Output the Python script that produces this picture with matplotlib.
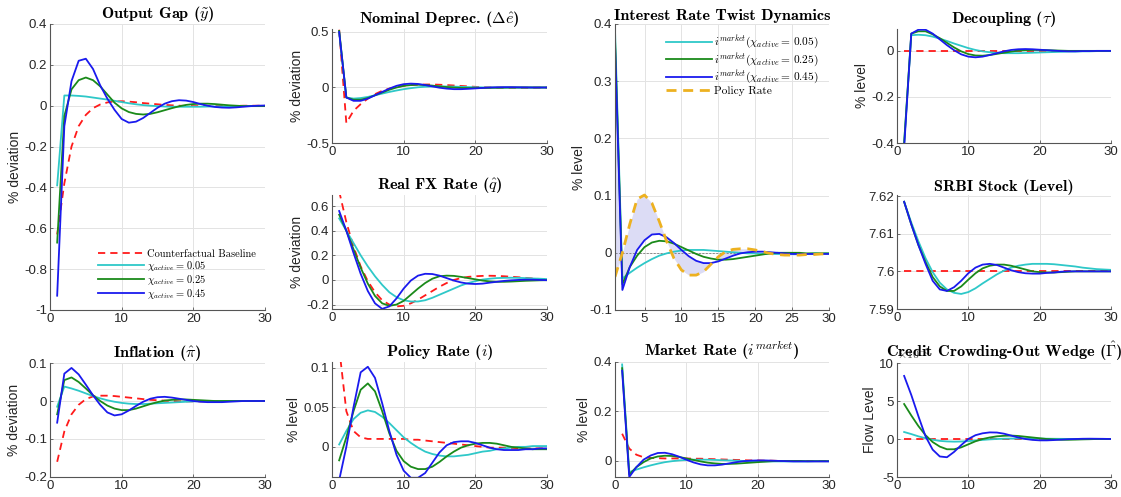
import matplotlib
matplotlib.use('Agg')
import matplotlib.pyplot as plt
import matplotlib.ticker as ticker

# horizon
t = list(range(1, 31))

# ---- output gap ----
og_base = [-0.63, -0.38, -0.20, -0.10, -0.045, -0.012, 0.006, 0.016, 0.021, 0.022, 0.020, 0.017, 0.013, 0.010, 0.007,
           0.004, 0.002, 0.000, -0.001, -0.002, -0.002, -0.002, -0.002, -0.001, -0.001, -0.001, 0.0, 0.0, 0.0, 0.0]
og_c05 = [-0.39, 0.050, 0.050, 0.048, 0.045, 0.040, 0.035, 0.030, 0.024, 0.018, 0.012, 0.007, 0.003, 0.000, -0.002,
          -0.004, -0.005, -0.005, -0.005, -0.005, -0.005, -0.004, -0.004, -0.003, -0.003, -0.002, -0.002, -0.001, -0.001, -0.001]
og_c25 = [-0.67, -0.05, 0.08, 0.125, 0.138, 0.125, 0.095, 0.055, 0.015, -0.013, -0.031, -0.040, -0.043, -0.040, -0.032,
          -0.022, -0.012, -0.003, 0.004, 0.008, 0.010, 0.010, 0.008, 0.005, 0.002, 0.000, -0.002, -0.002, -0.002, -0.002]
og_c45 = [-0.93, -0.10, 0.12, 0.22, 0.23, 0.18, 0.10, 0.035, -0.02, -0.065, -0.083, -0.078, -0.06, -0.035, -0.01,
          0.01, 0.022, 0.027, 0.025, 0.018, 0.008, 0.0, -0.006, -0.009, -0.01, -0.008, -0.005, -0.002, 0.0, 0.001]

# ---- nominal depreciation ----
nd_base = [0.52, -0.32, -0.21, -0.15, -0.10, -0.06, -0.03, -0.01, 0.005, 0.015, 0.022, 0.025, 0.027, 0.027, 0.025,
           0.022, 0.018, 0.014, 0.010, 0.006, 0.003, 0.0, -0.002, -0.003, -0.003, -0.003, -0.002, -0.002, -0.001, -0.001]
nd_c05 = [0.50, -0.09, -0.10, -0.095, -0.085, -0.07, -0.055, -0.04, -0.027, -0.015, -0.006, 0.002, 0.007, 0.009, 0.010,
          0.009, 0.008, 0.006, 0.004, 0.002, 0.001, 0.0, -0.001, -0.001, -0.001, -0.001, 0.0, 0.0, 0.0, 0.0]
nd_c25 = [0.51, -0.09, -0.11, -0.11, -0.095, -0.07, -0.045, -0.02, 0.0, 0.015, 0.022, 0.025, 0.022, 0.017, 0.010,
          0.004, -0.001, -0.004, -0.005, -0.005, -0.004, -0.003, -0.002, -0.001, 0.0, 0.0, 0.0, 0.0, 0.0, 0.0]
nd_c45 = [0.50, -0.09, -0.12, -0.12, -0.10, -0.07, -0.04, -0.01, 0.015, 0.030, 0.035, 0.032, 0.022, 0.010, -0.002,
          -0.010, -0.015, -0.015, -0.012, -0.008, -0.004, 0.0, 0.002, 0.003, 0.003, 0.002, 0.001, 0.0, 0.0, 0.0]

# ---- real FX rate ----
fx_base = [0.72, 0.47, 0.27, 0.11, -0.01, -0.10, -0.165, -0.20, -0.215, -0.21, -0.19, -0.16, -0.125, -0.09, -0.055,
           -0.025, 0.0, 0.015, 0.025, 0.030, 0.033, 0.034, 0.033, 0.030, 0.026, 0.022, 0.017, 0.012, 0.008, 0.005]
fx_c05 = [0.50, 0.40, 0.30, 0.20, 0.11, 0.03, -0.04, -0.10, -0.14, -0.165, -0.175, -0.175, -0.165, -0.145, -0.12,
          -0.095, -0.07, -0.045, -0.025, -0.01, 0.003, 0.010, 0.015, 0.017, 0.018, 0.017, 0.015, 0.012, 0.010, 0.007]
fx_c25 = [0.53, 0.40, 0.25, 0.10, -0.03, -0.13, -0.19, -0.21, -0.20, -0.17, -0.12, -0.07, -0.025, 0.01, 0.03,
          0.035, 0.033, 0.025, 0.015, 0.005, -0.005, -0.012, -0.015, -0.015, -0.013, -0.010, -0.007, -0.005, -0.003, -0.002]
fx_c45 = [0.56, 0.40, 0.22, 0.05, -0.09, -0.19, -0.235, -0.215, -0.15, -0.07, -0.005, 0.035, 0.050, 0.048, 0.035,
          0.015, -0.005, -0.020, -0.030, -0.033, -0.030, -0.022, -0.015, -0.008, -0.003, 0.0, 0.002, 0.002, 0.0, -0.002]

# ---- market rate ----
mr_base = [0.11, 0.05, 0.025, 0.015, 0.012, 0.011, 0.010, 0.010, 0.010, 0.010, 0.009, 0.009, 0.008, 0.007, 0.006,
           0.005, 0.004, 0.003, 0.002, 0.002, 0.001, 0.001, 0.0, 0.0, 0.0, 0.0, 0.0, 0.0, 0.0, 0.0]
mr_c05 = [0.39, -0.045, -0.035, -0.026, -0.018, -0.011, -0.005, -0.001, 0.002, 0.004, 0.005, 0.005, 0.005, 0.004, 0.003,
          0.002, 0.001, 0.0, -0.001, -0.001, -0.002, -0.002, -0.002, -0.002, -0.002, -0.002, -0.002, -0.001, -0.001, -0.001]
mr_c25 = [0.375, -0.055, -0.025, -0.005, 0.010, 0.018, 0.021, 0.020, 0.016, 0.010, 0.004, -0.002, -0.007, -0.010, -0.012,
          -0.012, -0.011, -0.009, -0.007, -0.005, -0.003, -0.001, 0.0, 0.0, 0.0, 0.0, -0.001, -0.001, -0.001, -0.001]
mr_c45 = [0.365, -0.065, -0.025, 0.005, 0.022, 0.032, 0.033, 0.027, 0.017, 0.005, -0.006, -0.014, -0.018, -0.018, -0.015,
          -0.010, -0.005, -0.001, 0.001, 0.002, 0.002, 0.001, 0.0, -0.001, -0.002, -0.002, -0.002, -0.002, -0.002, -0.002]

# ---- policy rate ----
pr_base = [0.125, 0.045, 0.02, 0.012, 0.010, 0.010, 0.010, 0.010, 0.010, 0.010, 0.009, 0.009, 0.008, 0.007, 0.006,
           0.005, 0.004, 0.003, 0.002, 0.001, 0.0, -0.001, -0.001, -0.001, -0.002, -0.002, -0.002, -0.002, -0.002, -0.002]
pr_c05 = [0.003, 0.020, 0.035, 0.043, 0.046, 0.044, 0.038, 0.030, 0.021, 0.012, 0.005, -0.001, -0.006, -0.009, -0.011,
          -0.012, -0.012, -0.011, -0.010, -0.008, -0.006, -0.005, -0.003, -0.002, -0.001, 0.0, 0.0, 0.001, 0.001, 0.001]
pr_c25 = [-0.017, 0.012, 0.045, 0.072, 0.080, 0.070, 0.045, 0.017, -0.005, -0.018, -0.025, -0.028, -0.028, -0.025, -0.019,
          -0.012, -0.006, -0.001, 0.002, 0.004, 0.005, 0.005, 0.004, 0.002, 0.0, -0.001, -0.002, -0.003, -0.003, -0.003]
pr_c45 = [-0.042, 0.0, 0.05, 0.094, 0.101, 0.087, 0.055, 0.02, -0.01, -0.03, -0.039, -0.039, -0.033, -0.02, -0.007,
          0.002, 0.006, 0.007, 0.007, 0.005, 0.002, -0.001, -0.003, -0.004, -0.004, -0.004, -0.003, -0.003, -0.002, -0.002]

# ---- inflation ----
inf_base = [-0.16, -0.08, -0.035, -0.01, 0.005, 0.012, 0.014, 0.014, 0.013, 0.011, 0.009, 0.007, 0.005, 0.003, 0.002,
            0.001, 0.0, -0.001, -0.001, -0.001, -0.001, -0.001, 0.0, 0.0, 0.0, 0.0, 0.0, 0.0, 0.0, 0.0]
inf_c05 = [-0.015, 0.038, 0.033, 0.027, 0.020, 0.013, 0.007, 0.002, -0.002, -0.005, -0.007, -0.008, -0.008, -0.007, -0.006,
           -0.005, -0.004, -0.003, -0.002, -0.001, 0.0, 0.0, 0.0, 0.0, 0.0, 0.0, 0.0, 0.0, 0.0, 0.0]
inf_c25 = [-0.035, 0.055, 0.062, 0.050, 0.033, 0.015, 0.0, -0.012, -0.020, -0.024, -0.024, -0.020, -0.014, -0.008, -0.003,
           0.001, 0.003, 0.004, 0.004, 0.003, 0.002, 0.001, 0.0, 0.0, 0.0, 0.0, 0.0, 0.0, 0.0, 0.0]
inf_c45 = [-0.057, 0.072, 0.087, 0.070, 0.043, 0.015, -0.010, -0.030, -0.038, -0.035, -0.025, -0.013, -0.002, 0.006, 0.010,
           0.011, 0.009, 0.006, 0.003, 0.0, -0.002, -0.003, -0.003, -0.003, -0.002, -0.001, 0.0, 0.0, 0.0, 0.0]

# ---- decoupling ----
dec_base = [0.0, 0.0, 0.0, 0.0, 0.0, 0.0, 0.0, 0.0, 0.0, 0.0, 0.0, 0.0, 0.0, 0.0, 0.0,
            0.0, 0.0, 0.0, 0.0, 0.0, 0.0, 0.0, 0.0, 0.0, 0.0, 0.0, 0.0, 0.0, 0.0, 0.0]
dec_c05 = [-0.40, 0.068, 0.070, 0.068, 0.062, 0.053, 0.043, 0.032, 0.022, 0.012, 0.004, -0.002, -0.006, -0.009, -0.010,
           -0.010, -0.010, -0.009, -0.008, -0.007, -0.006, -0.005, -0.004, -0.003, -0.003, -0.002, -0.002, -0.001, -0.001, -0.001]
dec_c25 = [-0.40, 0.075, 0.085, 0.085, 0.072, 0.055, 0.035, 0.015, -0.002, -0.014, -0.020, -0.021, -0.018, -0.013, -0.008,
           -0.003, 0.001, 0.003, 0.004, 0.004, 0.003, 0.002, 0.001, 0.0, 0.0, 0.0, 0.0, 0.0, 0.0, 0.0]
dec_c45 = [-0.42, 0.075, 0.092, 0.092, 0.075, 0.050, 0.025, 0.003, -0.015, -0.025, -0.028, -0.025, -0.018, -0.010, -0.002,
           0.004, 0.007, 0.008, 0.007, 0.005, 0.003, 0.001, -0.001, -0.002, -0.002, -0.001, -0.001, 0.0, 0.0, 0.0]

# ---- SRBI stock ----
srbi_base = [7.6, 7.6, 7.6, 7.6, 7.6, 7.6, 7.6, 7.6, 7.6, 7.6, 7.6, 7.6, 7.6, 7.6, 7.6,
             7.6, 7.6, 7.6, 7.6, 7.6, 7.6, 7.6, 7.6, 7.6, 7.6, 7.6, 7.6, 7.6, 7.6, 7.6]
srbi_c05 = [7.6185, 7.6130, 7.6080, 7.6035, 7.5998, 7.5970, 7.5952, 7.5943, 7.5940, 7.5945, 7.5955, 7.5968, 7.5980,
            7.5992, 7.6002, 7.6010, 7.6015, 7.6018, 7.6020, 7.6020, 7.6020, 7.6019, 7.6017, 7.6015, 7.6013, 7.6010,
            7.6008, 7.6006, 7.6005, 7.6004]
srbi_c25 = [7.6185, 7.6125, 7.6070, 7.6025, 7.5985, 7.5960, 7.5948, 7.5948, 7.5960, 7.5978, 7.5995, 7.6008, 7.6015,
            7.6018, 7.6018, 7.6015, 7.6010, 7.6005, 7.6000, 7.5998, 7.5997, 7.5997, 7.5998, 7.5999, 7.6000, 7.6000,
            7.6000, 7.6000, 7.6000, 7.6000]
srbi_c45 = [7.6185, 7.6125, 7.6070, 7.6020, 7.5975, 7.5952, 7.5948, 7.5958, 7.5975, 7.5995, 7.6010, 7.6018, 7.6020,
            7.6017, 7.6010, 7.6003, 7.5998, 7.5995, 7.5994, 7.5994, 7.5996, 7.5997, 7.5999, 7.6000, 7.6000, 7.6000,
            7.6000, 7.6000, 7.6000, 7.6000]

# ---- credit crowding-out wedge (x 1e-3) ----
cw_base = [0.0, 0.0, 0.0, 0.0, 0.0, 0.0, 0.0, 0.0, 0.0, 0.0, 0.0, 0.0, 0.0, 0.0, 0.0,
           0.0, 0.0, 0.0, 0.0, 0.0, 0.0, 0.0, 0.0, 0.0, 0.0, 0.0, 0.0, 0.0, 0.0, 0.0]
cw_c05 = [0.92, 0.65, 0.35, 0.1, -0.1, -0.25, -0.32, -0.35, -0.33, -0.28, -0.2, -0.12, -0.05, 0.0, 0.04,
          0.06, 0.07, 0.07, 0.06, 0.05, 0.04, 0.03, 0.02, 0.01, 0.01, 0.0, 0.0, 0.0, 0.0, 0.0]
cw_c25 = [4.6, 3.1, 1.7, 0.5, -0.4, -1.0, -1.35, -1.35, -1.1, -0.7, -0.3, 0.0, 0.2, 0.35, 0.42,
          0.45, 0.4, 0.3, 0.2, 0.1, 0.0, -0.05, -0.1, -0.1, -0.08, -0.05, -0.03, 0.0, 0.0, 0.0]
cw_c45 = [8.3, 5.8, 3.0, 0.35, -1.4, -2.3, -2.4, -1.7, -0.8, 0.0, 0.5, 0.75, 0.87, 0.85, 0.7,
          0.45, 0.2, 0.0, -0.12, -0.18, -0.18, -0.14, -0.08, -0.03, 0.0, 0.03, 0.04, 0.03, 0.02, 0.0]

chi_labels = [r'$\chi_{active} =\, 0.05$', r'$\chi_{active} =\, 0.25$', r'$\chi_{active} =\, 0.45$']
twist_labels = [r'$i^{market}(\chi_{active} =\, 0.05)$', r'$i^{market}(\chi_{active} =\, 0.25)$',
                r'$i^{market}(\chi_{active} =\, 0.45)$', 'Policy Rate']

C05 = '#2ec8c8'
C25 = '#1a8a1a'
C45 = '#1a1aee'
RED = '#ff1a1a'
ORANGE = '#edb120'
SHADE = '#dcdcf5'

plt.rcParams['font.family'] = ['Liberation Sans', 'DejaVu Sans']
plt.rcParams['mathtext.fontset'] = 'cm'
plt.rcParams['axes.unicode_minus'] = False

W, H = 1121, 497
fig = plt.figure(figsize=(W / 100, H / 100), dpi=100)


def px_axes(x0, y0, x1, y1):
    return fig.add_axes([x0 / W, 1 - y1 / H, (x1 - x0) / W, (y1 - y0) / H])


def fmt(v, pos):
    return '%g' % (round(v, 6) + 0.0)


def style(ax, title, ylabel, ylim, yticks, xlim=(0, 30), xticks=(0, 10, 20, 30)):
    ax.set_title(title, fontfamily='cmb10', fontsize=11.7, pad=3)
    if ylabel:
        ax.set_ylabel(ylabel, fontsize=10, color='#262626', labelpad=2)
    ax.set_xlim(xlim)
    ax.set_ylim(ylim)
    ax.set_xticks(xticks)
    ax.set_yticks(yticks)
    ax.yaxis.set_major_formatter(ticker.FuncFormatter(fmt))
    ax.grid(True, color='#e3e3e3', lw=0.7)
    ax.set_axisbelow(True)
    for s in ['top', 'right']:
        ax.spines[s].set_visible(False)
    for s in ['left', 'bottom']:
        ax.spines[s].set_color('#555555')
        ax.spines[s].set_linewidth(0.8)
    ax.tick_params(direction='in', length=2.5, width=0.6, colors='#555555',
                   labelcolor='#262626', labelsize=9.5, pad=2)


def irf(ax, base, c05, c25, c45):
    ax.plot(t, base, color=RED, lw=1.3, ls=(0, (4, 2.8)), label='Counterfactual Baseline')
    ax.plot(t, c05, color=C05, lw=1.3, label=chi_labels[0])
    ax.plot(t, c25, color=C25, lw=1.3, label=chi_labels[1])
    ax.plot(t, c45, color=C45, lw=1.3, label=chi_labels[2])


# column 1
ax = px_axes(50, 24, 265, 310)
irf(ax, og_base, og_c05, og_c25, og_c45)
style(ax, r'Output Gap ($\tilde{y}$)', '% deviation', (-1, 0.4), [-1, -0.8, -0.6, -0.4, -0.2, 0, 0.2, 0.4])
ax.legend(loc='lower right', bbox_to_anchor=(1.0, 0.0), frameon=False, prop={'family': 'cmr10', 'size': 7.5},
          handlelength=4.4, handletextpad=0.3, labelspacing=0.0, borderpad=0.4)

ax = px_axes(50, 363, 265, 477)
irf(ax, inf_base, inf_c05, inf_c25, inf_c45)
style(ax, r'Inflation ($\hat{\pi}$)', '% deviation', (-0.2, 0.1), [-0.2, -0.1, 0, 0.1])

# column 2
ax = px_axes(332, 29, 547, 143)
irf(ax, nd_base, nd_c05, nd_c25, nd_c45)
style(ax, r'Nominal Deprec. ($\Delta\hat{e}$)', '% deviation', (-0.5, 0.527), [-0.5, 0, 0.5])

ax = px_axes(332, 195, 547, 309)
irf(ax, fx_base, fx_c05, fx_c25, fx_c45)
style(ax, r'Real FX Rate ($\hat{q}$)', '% deviation', (-0.236, 0.69), [-0.2, 0, 0.2, 0.4, 0.6])

ax = px_axes(332, 362, 547, 477)
irf(ax, pr_base, pr_c05, pr_c25, pr_c45)
style(ax, r'Policy Rate ($i$)', '% level', (-0.038, 0.107), [0, 0.05, 0.1])

# column 3: twist
ax = px_axes(615, 24, 829, 310)
ax.fill_between(t, pr_c45, mr_c45, color=SHADE, lw=0)
ax.axhline(0, color='#333333', lw=0.5, ls=(0, (3, 2)), alpha=0.7)
ax.plot(t, mr_c05, color=C05, lw=1.3, label=twist_labels[0])
ax.plot(t, mr_c25, color=C25, lw=1.3, label=twist_labels[1])
ax.plot(t, mr_c45, color=C45, lw=1.3, label=twist_labels[2])
ax.plot(t, pr_c45, color=ORANGE, lw=2, ls=(0, (3.6, 2.4)), label=twist_labels[3])
style(ax, 'Interest Rate Twist Dynamics', '% level', (-0.1, 0.4), [-0.1, 0, 0.1, 0.2, 0.3, 0.4],
      xlim=(1, 30), xticks=(5, 10, 15, 20, 25, 30))
ax.legend(loc='upper right', bbox_to_anchor=(1.0, 1.0), frameon=False, prop={'family': 'cmr10', 'size': 8.2},
          handlelength=4.0, handletextpad=0.2, labelspacing=0.0, borderpad=0.4)

ax = px_axes(615, 362, 829, 477)
irf(ax, mr_base, mr_c05, mr_c25, mr_c45)
style(ax, r'Market Rate ($i^{market}$)', '% level', (-0.065, 0.4), [0, 0.2, 0.4])

# column 4
ax = px_axes(897, 29, 1111, 143)
irf(ax, dec_base, dec_c05, dec_c25, dec_c45)
style(ax, r'Decoupling ($\tau$)', '% level', (-0.4, 0.095), [-0.4, -0.2, 0])

ax = px_axes(897, 195, 1111, 309)
irf(ax, srbi_base, srbi_c05, srbi_c25, srbi_c45)
style(ax, 'SRBI Stock (Level)', None, (7.59, 7.6203), [7.59, 7.6, 7.61, 7.62])

ax = px_axes(897, 363, 1111, 477)
irf(ax, cw_base, cw_c05, cw_c25, cw_c45)
style(ax, r'Credit Crowding-Out Wedge ($\hat{\Gamma}$)', 'Flow Level', (-5, 10), [-5, 0, 5, 10])
ax.text(0.0, 1.01, r'$\times10^{-3}$', transform=ax.transAxes, fontsize=8.5, color='#444444',
        ha='left', va='bottom')

fig.savefig('out.png', dpi=100)
